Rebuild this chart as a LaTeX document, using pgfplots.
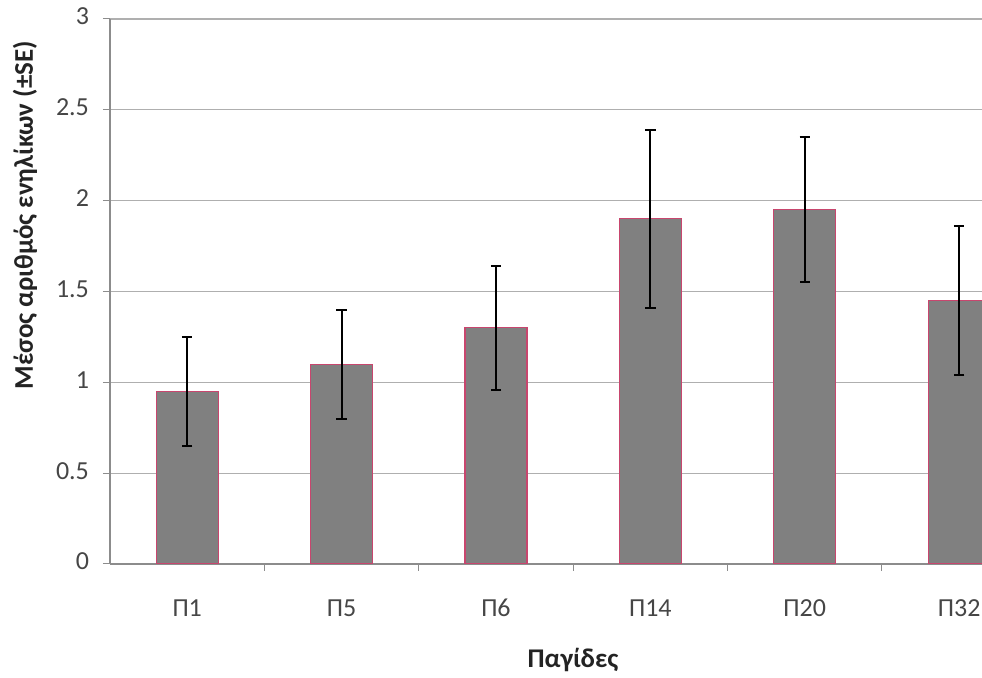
\documentclass[border=0pt]{standalone}
\usepackage{fontspec}
\setmainfont{Carlito}
\usepackage{pgfplots}
\pgfplotsset{compat=1.18}
\definecolor{barfill}{RGB}{128,128,128}
\definecolor{baredge}{RGB}{200,70,110}
\definecolor{gridc}{RGB}{175,175,175}
\definecolor{axc}{RGB}{140,140,140}
\definecolor{tickc}{RGB}{70,70,70}
\definecolor{labc}{RGB}{35,35,35}
\begin{document}
\begin{tikzpicture}
\useasboundingbox (-55pt,-57pt) rectangle (436pt,282pt);
\clip (-55pt,-57pt) rectangle (436pt,282pt);
\begin{axis}[
  scale only axis, width=436pt, height=272.5pt,
  xmin=-0.5, xmax=5.148, ymin=0, ymax=3,
  ytick={0,0.5,1,1.5,2,2.5,3},
  ymajorgrids, grid style={gridc, line width=0.6pt},
  xtick={0,1,2,3,4,5},
  xticklabels={Π1,Π5,Π6,Π14,Π20,Π32},
  minor xtick={0.5,1.5,2.5,3.5,4.5},
  major x tick style={draw=none},
  tick align=outside, tick pos=left,
  major tick length=3.5pt, minor tick length=3.5pt,
  tick style={axc, line width=0.5pt},
  axis x line*=bottom, axis y line*=left,
  axis line style={axc, line width=0.6pt, -},
  /pgf/number format/assume math mode=true,
  typeset ticklabels with strut,
  ticklabel style={font=\fontsize{13}{15}\selectfont, text=tickc},
  yticklabel style={xshift=-3.5pt},
  xticklabel style={yshift=-8.5pt},
  xlabel={Παγίδες},
  xlabel style={at={(axis description cs:0.531,0)}, anchor=center, yshift=-48pt, font=\fontsize{13.5}{16}\selectfont\bfseries, text=labc},
  ylabel={Μέσος αριθμός ενηλίκων (±SE)},
  ylabel style={at={(axis description cs:0,0.64)}, anchor=center, yshift=42.5pt, font=\fontsize{13.5}{16}\selectfont\bfseries, text=labc},
]
\addplot[ybar, bar width=31pt, fill=barfill, draw=baredge, line width=0.6pt,
  error bars/.cd, y dir=both, y explicit,
  error bar style={black, line width=1pt},
  error mark options={rotate=90, mark size=2.6pt, line width=1pt, black}]
  coordinates {
    (0,0.95) +- (0,0.30)
    (1,1.10) +- (0,0.30)
    (2,1.30) +- (0,0.34)
    (3,1.90) +- (0,0.49)
    (4,1.95) +- (0,0.40)
    (5,1.45) +- (0,0.41)
  };
\end{axis}
\end{tikzpicture}
\end{document}
